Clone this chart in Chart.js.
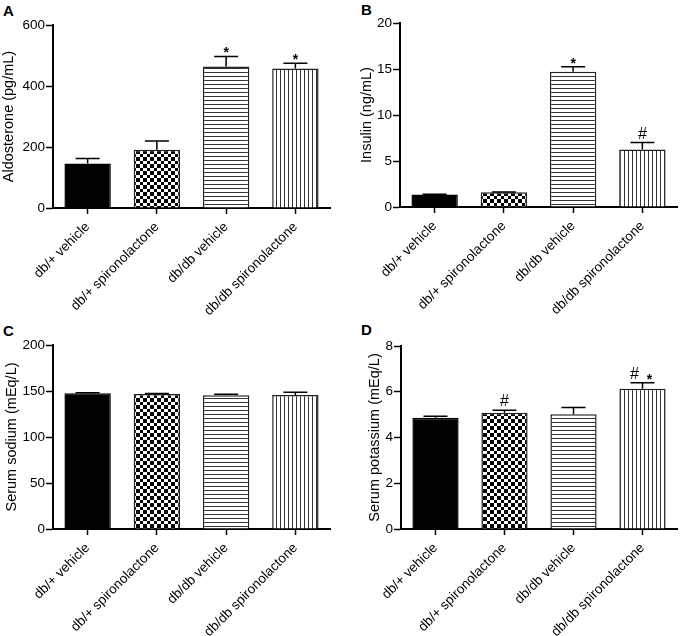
<!DOCTYPE html>
<html><head><meta charset="utf-8">
<script src="https://cdn.jsdelivr.net/npm/chart.js@4.4.1/dist/chart.umd.min.js"></script>
<style>
body{margin:0;background:#fff;width:680px;height:636px;position:relative;overflow:hidden;font-family:"Liberation Sans",Arial,Helvetica,sans-serif}
canvas{position:absolute}
.lbl{position:absolute;font-weight:bold;font-size:15px;color:#000;line-height:15px}
</style></head><body>
<div class="lbl" style="left:3px;top:3px">A</div>
<div class="lbl" style="left:361px;top:2px">B</div>
<div class="lbl" style="left:3px;top:323px">C</div>
<div class="lbl" style="left:361px;top:322px">D</div>
<canvas id="cA" width="340" height="332" style="left:0;top:0"></canvas>
<canvas id="cB" width="340" height="332" style="left:340px;top:0"></canvas>
<canvas id="cC" width="340" height="318" style="left:0;top:318px"></canvas>
<canvas id="cD" width="340" height="318" style="left:340px;top:318px"></canvas>
<script>
const categories = ['db/+ vehicle', 'db/+ spironolactone', 'db/db vehicle', 'db/db spironolactone'];

const aldosteroneMean = [146, 191, 464, 457];
const aldosteroneSem  = [16, 29, 33, 18];
const aldosteroneMarks = ['', '', '*', '*'];

const insulinMean = [1.35, 1.6, 14.7, 6.25];
const insulinSem  = [0.03, 0.03, 0.55, 0.75];
const insulinMarks = ['', '', '*', '#'];

const sodiumMean = [147.5, 146.8, 145.3, 145.7];
const sodiumSem  = [0.6, 0.5, 1.3, 3.0];
const sodiumMarks = ['', '', '', ''];

const potassiumMean = [4.86, 5.08, 5.02, 6.13];
const potassiumSem  = [0.07, 0.11, 0.29, 0.26];
const potassiumMarks = ['', '#', '', '# *'];

const FONT = '"Liberation Sans", Arial, Helvetica, sans-serif';

function makePattern(kind) {
  const c = document.createElement('canvas');
  const ctx = c.getContext('2d');
  if (kind === 'checker') {
    c.width = 7; c.height = 7;
    ctx.fillStyle = '#fff'; ctx.fillRect(0, 0, 7, 7);
    ctx.fillStyle = '#000'; ctx.fillRect(0, 0, 3, 3); ctx.fillRect(3, 3, 4, 4);
  } else if (kind === 'hlines') {
    c.width = 4; c.height = 4;
    ctx.fillStyle = '#fff'; ctx.fillRect(0, 0, 4, 4);
    ctx.fillStyle = '#333'; ctx.fillRect(0, 0, 4, 1);
  } else {
    c.width = 4; c.height = 4;
    ctx.fillStyle = '#fff'; ctx.fillRect(0, 0, 4, 4);
    ctx.fillStyle = '#333'; ctx.fillRect(0, 0, 1, 4);
  }
  return ctx.createPattern(c, 'repeat');
}
const fills = ['#000', makePattern('checker'), makePattern('hlines'), makePattern('vlines')];

const errorBarPlugin = {
  id: 'errbars',
  afterDatasetsDraw(chart) {
    const meta = chart.getDatasetMeta(0);
    const ds = chart.data.datasets[0];
    const y = chart.scales.y;
    const ctx = chart.ctx;
    ctx.save();
    ctx.strokeStyle = '#000';
    ctx.lineWidth = 1.5;
    ctx.fillStyle = '#000';
    meta.data.forEach((bar, i) => {
      const top = y.getPixelForValue(ds.data[i] + ds.sem[i]);
      ctx.beginPath();
      ctx.moveTo(bar.x, bar.y);
      ctx.lineTo(bar.x, top);
      ctx.moveTo(bar.x - 12, top);
      ctx.lineTo(bar.x + 12, top);
      ctx.stroke();
      const mark = ds.marks[i];
      if (mark) {
        const toks = mark.split(' ');
        toks.forEach((t, k) => {
          const off = toks.length > 1 ? (k === 0 ? -8 : 7) : 0;
          ctx.textAlign = 'center';
          ctx.textBaseline = 'alphabetic';
          if (t === '*') {
            ctx.font = 'bold 14px ' + FONT;
            ctx.fillText('*', bar.x + off, top + 1);
          } else {
            ctx.font = '16px ' + FONT;
            ctx.fillText(t, bar.x + off, top - 4);
          }
        });
      }
    });
    ctx.restore();
  }
};

function panel(id, mean, sem, marks, title, max, step, cfg) {
  const canvas = document.getElementById(id);
  const H = canvas.height;
  new Chart(canvas, {
    type: 'bar',
    data: {
      labels: categories,
      datasets: [{
        data: mean, sem: sem, marks: marks,
        backgroundColor: fills,
        borderColor: ['#000', '#222', '#222', '#222'],
        borderWidth: 1.5,
        barPercentage: 0.67,
        categoryPercentage: 1
      }]
    },
    options: {
      responsive: false,
      animation: false,
      devicePixelRatio: 1,
      layout: { padding: { left: cfg.padLeft, right: cfg.padRight, top: cfg.top, bottom: 0 } },
      plugins: { legend: { display: false }, tooltip: { enabled: false } },
      scales: {
        x: {
          ticks: { font: { size: 13.5, family: FONT }, color: '#000', minRotation: 45, maxRotation: 45, autoSkip: false, padding: 5 },
          grid: { offset: false, drawOnChartArea: false, drawTicks: true, tickLength: 6, tickColor: '#000', tickWidth: 1.5 },
          border: { display: true, color: '#000', width: 2 },
          afterFit(s) { s.height = H - cfg.bottom; }
        },
        y: {
          min: 0, max: max,
          ticks: { stepSize: step, font: { size: 13.5, family: FONT }, color: '#000', padding: 1 },
          grid: { drawOnChartArea: false, drawTicks: true, tickLength: 7, tickColor: '#000', tickWidth: 1.5 },
          border: { display: true, color: '#000', width: 2 },
          title: { display: true, text: title, color: '#000', font: { size: 14.5, family: FONT }, padding: { top: 0, bottom: 0 } },
          afterFit(s) { s.width = cfg.axisLeft - cfg.padLeft; }
        }
      }
    },
    plugins: [errorBarPlugin]
  });
}

panel('cA', aldosteroneMean, aldosteroneSem, aldosteroneMarks, 'Aldosterone (pg/mL)', 600, 200,
  { axisLeft: 53, padLeft: 0, padRight: 10, top: 25, bottom: 208 });
panel('cB', insulinMean, insulinSem, insulinMarks, 'Insulin (ng/mL)', 20, 5,
  { axisLeft: 60, padLeft: 18, padRight: 3, top: 23, bottom: 207 });
panel('cC', sodiumMean, sodiumSem, sodiumMarks, 'Serum sodium (mEq/L)', 200, 50,
  { axisLeft: 53, padLeft: 3, padRight: 10, top: 27, bottom: 211 });
panel('cD', potassiumMean, potassiumSem, potassiumMarks, 'Serum potassium (mEq/L)', 8, 2,
  { axisLeft: 61, padLeft: 26, padRight: 3, top: 28, bottom: 211 });
</script>
</body></html>
